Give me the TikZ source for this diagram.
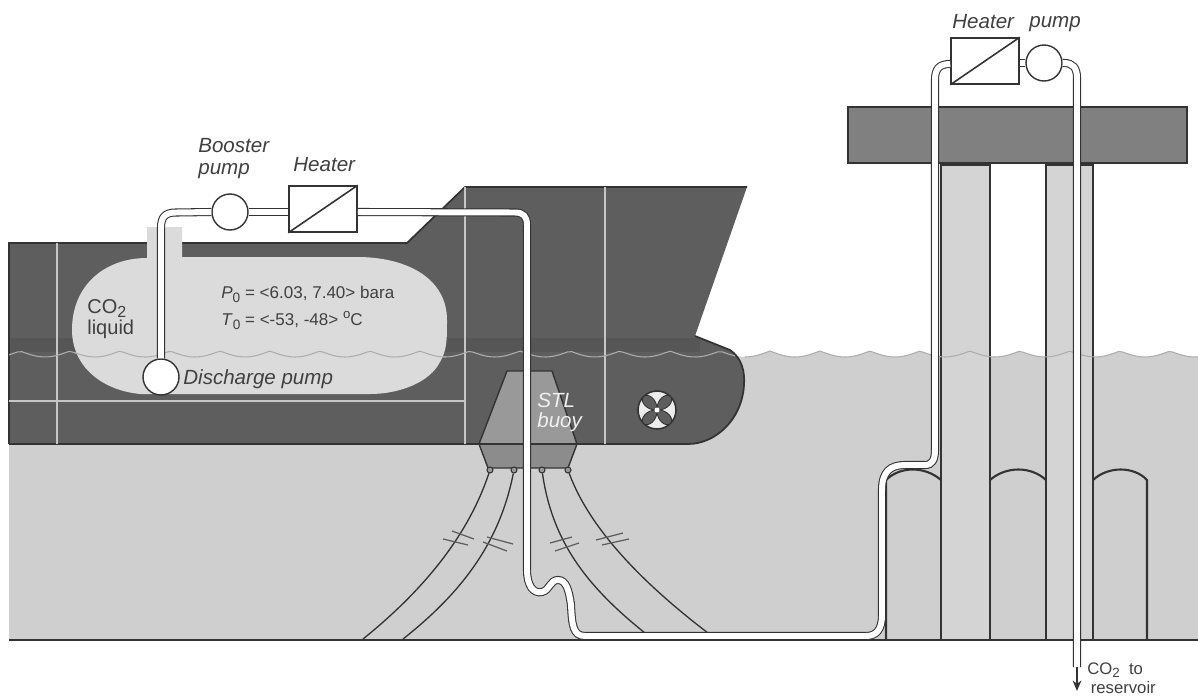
\documentclass[tikz,border=0pt]{standalone}
\usepackage{fontspec}
\usetikzlibrary{arrows.meta}
\setmainfont{Liberation Sans}
\definecolor{hullc}{gray}{0.37}
\definecolor{waterc}{gray}{0.81}
\definecolor{tankc}{gray}{0.86}
\definecolor{linec}{gray}{0.2}
\definecolor{txtc}{gray}{0.25}
\definecolor{deckc}{gray}{0.5}
\definecolor{buoyc}{gray}{0.6}
\definecolor{buoyd}{gray}{0.55}
\definecolor{legc}{gray}{0.83}
\definecolor{wavec}{gray}{0.68}
\newcommand{\lowsub}[1]{\raisebox{-0.4ex}{\fontsize{0.8em}{0.8em}\selectfont #1}}
\tikzset{
  px/.style={x=0.02cm,y=-0.02cm},
  pipe/.style={draw=linec,line width=0.6pt,double=white,double distance=3.4pt},
  pumpnode/.style={circle,draw=linec,fill=white,line width=0.8pt,minimum size=0.72cm,inner sep=0pt},
  heaternode/.style={rectangle,draw=linec,fill=white,line width=0.9pt,minimum width=1.36cm,minimum height=0.92cm,inner sep=0pt},
  bulk/.style={draw=gray!45!white,line width=0.7pt},
  moor/.style={draw=linec,line width=0.75pt},
  tick/.style={draw=linec!80!white,line width=0.7pt},
  outline/.style={draw=linec,line width=1pt},
  leg/.style={draw=linec,line width=1.2pt},
  lab/.style={inner sep=0pt,text=txtc,font=\fontsize{11.7pt}{12.5pt}\selectfont\itshape,align=left},
  labup/.style={inner sep=0pt,text=txtc,font=\fontsize{10pt}{12.5pt}\selectfont,align=left},
  shackle/.style={circle,draw=linec,fill=buoyc,line width=0.6pt,minimum size=0.12cm,inner sep=0pt}
}
\begin{document}
\begin{tikzpicture}[px]
\useasboundingbox (0,0) rectangle (1198,697);
\fill[white] (0,0) rectangle (1198,697);
% water
\fill[waterc] plot[domain=9:1198,samples=260] (\x,{351+6*abs(sin((\x-470)*3.6))}) -- (1198,640) -- (9,640) -- cycle;
% legs
\fill[legc] (941,163) rectangle (990,640);
\fill[legc] (1046,163) rectangle (1093,640);
\draw[leg] (941,163) -- (941,640);
\draw[leg] (990,163) -- (990,640);
\draw[leg] (1046,163) -- (1046,640);
\draw[leg] (1093,163) -- (1093,640);
% caissons
\draw[leg] (886,640) -- (886,480) .. controls (900,466) and (925,466) .. (941,480);
\draw[leg] (990,480) .. controls (1006,466) and (1031,466) .. (1046,480);
\draw[leg] (1093,480) .. controls (1108,466) and (1134,466) .. (1147,480) -- (1147,640);
% deck
\fill[deckc,draw=linec,line width=1pt] (848,107) rectangle (1187,163);
\fill[linec] (941,163) rectangle (990,166);
\fill[linec] (1046,163) rectangle (1093,166);
% wave on open water
\draw[wavec,line width=0.6pt] plot[domain=745:1198,samples=110] (\x,{351+6*abs(sin((\x-470)*3.6))});
% buoy lower part
\fill[buoyd,draw=linec,line width=0.8pt] (479,444) -- (577,444) -- (568,468) -- (488,468) -- cycle;
% hull
\fill[hullc] (9,243) -- (407,243) -- (465,187) -- (747,187) -- (695,336) -- (730,350) .. controls (742,358) and (745,372) .. (744,385) .. controls (742,420) and (715,444) .. (688,444) -- (9,444) -- cycle;
\fill[black,opacity=0.08] (9,338) rectangle (700,352);
\draw[outline] (9,444) -- (9,243) -- (407,243) -- (465,187) -- (747,187);
\draw[outline] (695,336) -- (730,350) .. controls (742,358) and (745,372) .. (744,385) .. controls (742,420) and (715,444) .. (688,444) -- (9,444);
% bulkheads
\draw[bulk] (57,243) -- (57,444);
\draw[bulk] (465,187) -- (465,444);
\draw[bulk] (605,187) -- (605,444);
\draw[bulk] (9,401) -- (465,401);
% wave in hull
\draw[wavec,line width=0.6pt] plot[domain=9:735,samples=170] (\x,{351+6*abs(sin((\x-470)*3.6))});
% tank
\fill[tankc] (147,227) -- (182,227) -- (182,257) -- (360,257) .. controls (410,258) and (447,280) .. (447,320) .. controls (447,340) and (447,350) .. (440,362) .. controls (430,382) and (400,394) .. (370,394) -- (140,394) .. controls (100,390) and (72,365) .. (72,330) .. controls (72,285) and (105,258) .. (147,258) -- cycle;
\draw[wavec,line width=0.6pt] plot[domain=74:446,samples=100] (\x,{351+6*abs(sin((\x-470)*3.6))});
% buoy upper part
\fill[buoyc,draw=linec,line width=0.8pt] (507,371) -- (552,371) -- (577,444) -- (479,444) -- cycle;
\draw[outline] (479,444) -- (577,444);
% shackles
\node[shackle] (s1) at (490,470) {};
\node[shackle] (s2) at (514,470) {};
\node[shackle] (s3) at (542,470) {};
\node[shackle] (s4) at (568,470) {};
\coordinate (a1) at (363,639);
\coordinate (a2) at (403,639);
\coordinate (a3) at (645,633);
\coordinate (a4) at (708,633);
% mooring lines
\draw[moor] (s1) .. controls (470,530) and (430,585) .. (a1);
\draw[moor] (s2) .. controls (500,540) and (465,590) .. (a2);
\draw[moor] (s3) .. controls (552,540) and (585,585) .. (a3);
\draw[moor] (s4) .. controls (590,530) and (645,585) .. (a4);
\draw[tick] (452,531) -- (474,539);
\draw[tick] (443,539) -- (468,545);
\draw[tick] (487,537) -- (513,544);
\draw[tick] (483,542) -- (507,551);
\draw[tick] (550,543) -- (572,537);
\draw[tick] (555,551) -- (579,543);
\draw[tick] (596,540) -- (623,533);
\draw[tick] (602,545) -- (629,539);
% propeller
\node[circle,draw=linec,fill=gray!15!white,line width=0.9pt,minimum size=0.76cm,inner sep=0pt] (prop) at (657,410) {};
\foreach \a in {45,135,225,315}
  \fill[hullc,draw=linec,line width=0.5pt,rotate around={\a:(prop.center)}] (657,410) .. controls (664,402) and (676,404) .. (676,410) .. controls (676,416) and (664,418) .. (657,410) -- cycle;
\fill[white] (prop.center) circle (2.5);
% seabed
\draw[line width=1.1pt,draw=linec] (9,640) -- (1198,640);
% equipment
\node[pumpnode] (dp) at (161,377) {};
\node[pumpnode] (bp) at (230,212) {};
\node[heaternode] (bh) at (323,209) {};
\draw[line width=0.9pt,draw=linec] (bh.south west) -- (bh.north east);
\node[heaternode] (th) at (985,61) {};
\draw[line width=0.9pt,draw=linec] (th.south west) -- (th.north east);
\node[pumpnode] (tp) at (1044,63) {};
\coordinate (rend) at (1077,667);
\coordinate (rtip) at (1077,691);
% pipes
\draw[pipe] (dp.north) -- (161,228) .. controls (161,217) and (165,212.5) .. (176,212.5) -- (bp.west);
\draw[pipe] (bp.east) -- (bh.west |- bp.east);
\draw[pipe] (bh.east |- bp.east) -- (515,212.5) .. controls (523,212.5) and (527,216) .. (527,225) -- (527,570) .. controls (527,585) and (533,594) .. (542,592) .. controls (550,590) and (550,580) .. (558,580) .. controls (566,580) and (569,590) .. (571,605) .. controls (572,625) and (573,636) .. (585,636) -- (866,636) .. controls (876,636) and (882,630) .. (882,615) -- (882,490) .. controls (882,472) and (890,465) .. (905,465) -- (925,465) .. controls (932,465) and (935,460) .. (935,450) -- (935,80) .. controls (935,69) and (939,64) .. (th.west |- 0,64);
\draw[pipe] (th.east |- tp.west) -- (tp.west);
\draw[pipe] (tp.east) -- (1064,63) .. controls (1073,63) and (1077,68) .. (1077,78) -- (rend);
\draw[-{Stealth[length=6pt,width=5pt]},line width=0.9pt,draw=linec] (rend) -- (rtip);
% labels
\node[lab,anchor=west] (l1) at (198,159) {Booster\\pump};
\node[lab,anchor=west] (l2) at (293,165) {Heater};
\node[lab,anchor=west] (l3) at (952,22) {Heater};
\node[lab,anchor=west] (l4) at (1029,24) {pump};
\node[lab,anchor=west] (l5) at (183,379) {Discharge pump};
\node[labup,anchor=west,font=\fontsize{11.4pt}{12pt}\selectfont] (l6) at (87,319) {CO\lowsub{2}\\liquid};
\node[labup,anchor=west,font=\fontsize{9.7pt}{15.2pt}\selectfont] (l7) at (221,308) {\textit{P}\lowsub{0} = <6.03, 7.40> bara\\\textit{T}\lowsub{0} = <-53, -48> \raisebox{0.8ex}{\fontsize{7.5pt}{8pt}\selectfont o}C};
\node[lab,anchor=west,text=gray!12!white,font=\fontsize{11.7pt}{11.4pt}\selectfont\itshape] (l8) at (537,412) {STL\\buoy};
\node[labup,anchor=north west,font=\fontsize{9.5pt}{11.2pt}\selectfont] (l9) at (1087,662) {CO\lowsub{2}\ \ to\\\hspace*{5\pgflinewidth}reservoir};
\end{tikzpicture}
\end{document}
